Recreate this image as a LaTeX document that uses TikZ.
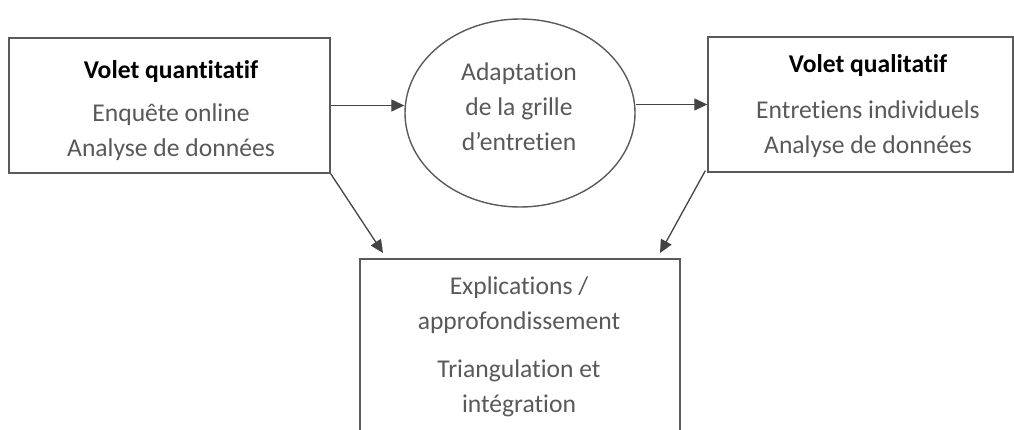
\documentclass[tikz,border=0pt]{standalone}
\usepackage{fontspec}
\setmainfont{Carlito}[Ligatures=NoCommon]
\usetikzlibrary{arrows.meta,shapes.geometric,calc}
\definecolor{txtgrey}{HTML}{595959}
\definecolor{linegrey}{HTML}{5A5A5A}
\definecolor{arrgrey}{HTML}{444444}
\begin{document}
\begin{tikzpicture}[x=1pt,y=-1pt,
  boxshape/.style={draw=linegrey,line width=1.4pt,inner sep=0pt},
  txt/.style={text=txtgrey,align=center,font=\fontsize{25.6}{35}\selectfont},
  conn/.style={draw=arrgrey,line width=1.3pt,-{Triangle[length=13pt,width=12pt]}}]
\useasboundingbox (0,0) rectangle (1014,429);
\clip (0,0) rectangle (1014,429);
\fill[white] (0,0) rectangle (1014,429);
% boxes
\node[boxshape,rectangle,minimum width=321pt,minimum height=135pt] (lq) at (169.5,105.5) {};
\node[boxshape,rectangle,minimum width=305pt,minimum height=135pt] (rq) at (860.5,104.5) {};
\node[boxshape,ellipse,minimum width=230pt,minimum height=188pt] (el) at (520,113) {};
\node[boxshape,rectangle,minimum width=320pt,minimum height=201pt] (bot) at (520,359.5) {};
% texts
\node[txt] (lqt) at (171,111) {{\bfseries\color{black}Volet quantitatif}\\[8pt]Enquête online\\Analyse de données};
\node[txt] (elt) at (519,107) {Adaptation\\de la grille\\d’entretien};
\node[txt] (rqt) at (868,106.5) {{\bfseries\color{black}Volet qualitatif}\\[11pt]Entretiens individuels\\Analyse de données};
\node[txt] (bott) at (519,347) {Explications /\\approfondissement\\[13pt]Triangulation et\\intégration};
% connectors
\coordinate (t1) at (383,253);
\coordinate (t2) at (660,253);
\draw[conn] (lq.east) -- (lq.east -| el.west);
\draw[conn] (rq.west -| el.east) -- (rq.west);
\draw[conn] (lq.south east) -- (t1);
\draw[conn] ($(rq.south west)+(-2,-2)$) -- (t2);
\end{tikzpicture}
\end{document}
